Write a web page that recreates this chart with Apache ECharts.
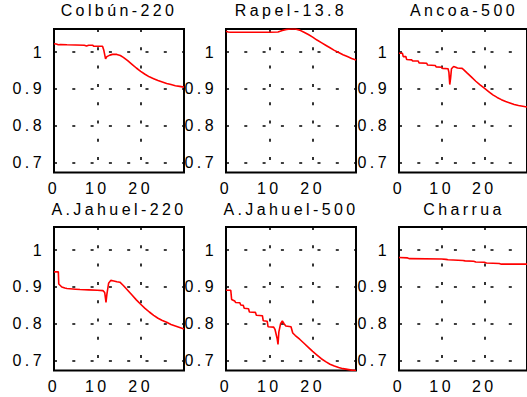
<!DOCTYPE html>
<html><head><meta charset="utf-8">
<script src="https://cdn.jsdelivr.net/npm/echarts@6/dist/echarts.min.js"></script>
<style>
html,body{margin:0;padding:0;background:#fff;}
#chart{width:527px;height:397px;}
#chart text{letter-spacing:3.4px;}
</style></head><body><div id="chart"></div>
<script>
const panelTitles = ['Colbún-220','Rapel-13.8','Ancoa-500','A.Jahuel-220','A.Jahuel-500','Charrua'];

const colbun = [[0,1.023],[0.5,1.022],[1,1.020],[1.5,1.021],[3,1.020],[7,1.019],[7.5,1.017],[8,1.019],[9,1.019],[9.1,1.016],[11.2,1.016],[11.5,1.005],[11.9,0.982],[12.2,0.988],[12.9,0.992],[13.5,0.994],[14.5,0.994],[15.3,0.991],[16,0.986],[17,0.977],[18,0.967],[19,0.957],[20,0.948],[21,0.940],[22,0.933],[23,0.928],[24,0.923],[25,0.919],[26,0.915],[27,0.912],[28,0.909],[29,0.907],[30,0.905]];

const rapel = [[0,1.057],[0.5,1.055],[1,1.054],[5,1.054],[10,1.054],[12,1.055],[13,1.059],[14,1.062],[15,1.063],[16,1.063],[17,1.060],[18,1.054],[19,1.048],[20,1.041],[21,1.033],[22,1.026],[23,1.019],[24,1.012],[25,1.005],[26,0.999],[27,0.993],[28,0.988],[29,0.983],[30,0.979]];

const ancoa = [[0,0.997],[0.8,0.997],[1,0.988],[1.6,0.988],[1.8,0.980],[3,0.979],[3.2,0.976],[4.5,0.976],[4.7,0.971],[6.5,0.970],[6.7,0.965],[8.5,0.964],[8.7,0.960],[10,0.959],[10.2,0.956],[11.5,0.955],[11.7,0.945],[11.9,0.912],[12.1,0.930],[12.3,0.955],[12.8,0.961],[13.3,0.959],[13.7,0.957],[14.8,0.956],[15.2,0.952],[16,0.943],[17,0.932],[18,0.921],[19,0.911],[20,0.902],[21,0.893],[22,0.884],[23,0.877],[24,0.871],[25,0.866],[26,0.862],[27,0.858],[28,0.855],[29,0.853],[30,0.851]];

const jahuel220 = [[0,0.941],[1,0.941],[1.1,0.908],[1.8,0.900],[2.5,0.897],[3,0.896],[5,0.894],[6,0.893],[8,0.892],[10,0.891],[11.3,0.890],[11.7,0.885],[12,0.858],[12.2,0.880],[12.6,0.910],[13.1,0.918],[13.8,0.916],[14.5,0.914],[15.2,0.913],[16,0.904],[17,0.891],[18,0.878],[19,0.865],[20,0.853],[21,0.842],[22,0.832],[23,0.823],[24,0.815],[25,0.809],[26,0.804],[27,0.798],[28,0.794],[29,0.790],[30,0.786]];

const jahuel500 = [[0,0.891],[1.1,0.891],[1.3,0.866],[2,0.862],[2.2,0.858],[3.2,0.857],[3.4,0.851],[4,0.850],[4.2,0.842],[5.2,0.841],[5.4,0.832],[6.8,0.831],[7,0.823],[8.4,0.822],[8.6,0.808],[9.5,0.807],[9.7,0.792],[11,0.791],[11.3,0.785],[11.8,0.760],[12,0.744],[12.2,0.778],[12.6,0.800],[13,0.808],[13.4,0.800],[13.8,0.794],[15,0.792],[15.4,0.775],[16,0.768],[17,0.758],[18,0.747],[19,0.736],[20,0.725],[21,0.715],[22,0.705],[23,0.697],[24,0.690],[25,0.685],[26,0.681],[27,0.678],[28,0.676],[29,0.674],[30,0.673]];

const charrua = [[0,0.980],[2,0.979],[2.5,0.977],[10,0.976],[11,0.975],[11.5,0.974],[15,0.972],[15.5,0.971],[17.5,0.970],[18,0.968],[20,0.967],[20.5,0.965],[23.5,0.964],[24,0.962],[30,0.962]];

const seriesData = [colbun, rapel, ancoa, jahuel220, jahuel500, charrua];

const colLeft = [54, 226, 399];
const rowTop = [29, 227];
const titleTop = [2, 201];
const W = 130, H = 143.5;
const FONT = '"Liberation Sans", Arial, sans-serif';

const grids = [], xAxes = [], yAxes = [], series = [], titles = [];
seriesData.forEach((d, i) => {
  const c = i % 3, r = Math.floor(i / 3);
  grids.push({left: colLeft[c], top: rowTop[r], width: W, height: H, show: true,
    borderColor: '#000', borderWidth: 2, backgroundColor: 'transparent', containLabel: false});
  const grid = {type: [3, 15.3], color: '#000', width: 1.6};
  xAxes.push({type: 'value', gridIndex: i, min: 0, max: 30, interval: 10,
    axisLine: {show: false}, axisTick: {show: false},
    axisLabel: {color: '#000', fontSize: 16, fontFamily: FONT, fontWeight: 'normal', margin: 8, showMaxLabel: false},
    splitLine: {show: true, showMinLine: false, showMaxLine: false, lineStyle: grid}});
  yAxes.push({type: 'value', gridIndex: i, min: 0.673, max: 1.063, splitNumber: 4,
    axisLine: {show: false}, axisTick: {show: false},
    axisLabel: {color: '#000', fontSize: 16, fontFamily: FONT, fontWeight: 'normal', margin: 9, showMinLabel: false, showMaxLabel: false},
    splitLine: {show: true, showMinLine: false, showMaxLine: false, lineStyle: grid}});
  series.push({type: 'line', xAxisIndex: i, yAxisIndex: i, data: d, showSymbol: false,
    symbol: 'none', lineStyle: {color: '#ff0000', width: 1.6}, clip: true, z: 3});
  titles.push({text: panelTitles[i], left: colLeft[c] + W / 2 - 5, top: titleTop[r] - 5,
    textAlign: 'center', padding: 5,
    textStyle: {color: '#000', fontSize: 16, fontFamily: FONT, fontWeight: 'normal'}});
});

const chart = echarts.init(document.getElementById('chart'), null, {renderer: 'svg'});
chart.setOption({animation: false, backgroundColor: '#fff', title: titles, grid: grids, xAxis: xAxes, yAxis: yAxes, series: series});
</script></body></html>
